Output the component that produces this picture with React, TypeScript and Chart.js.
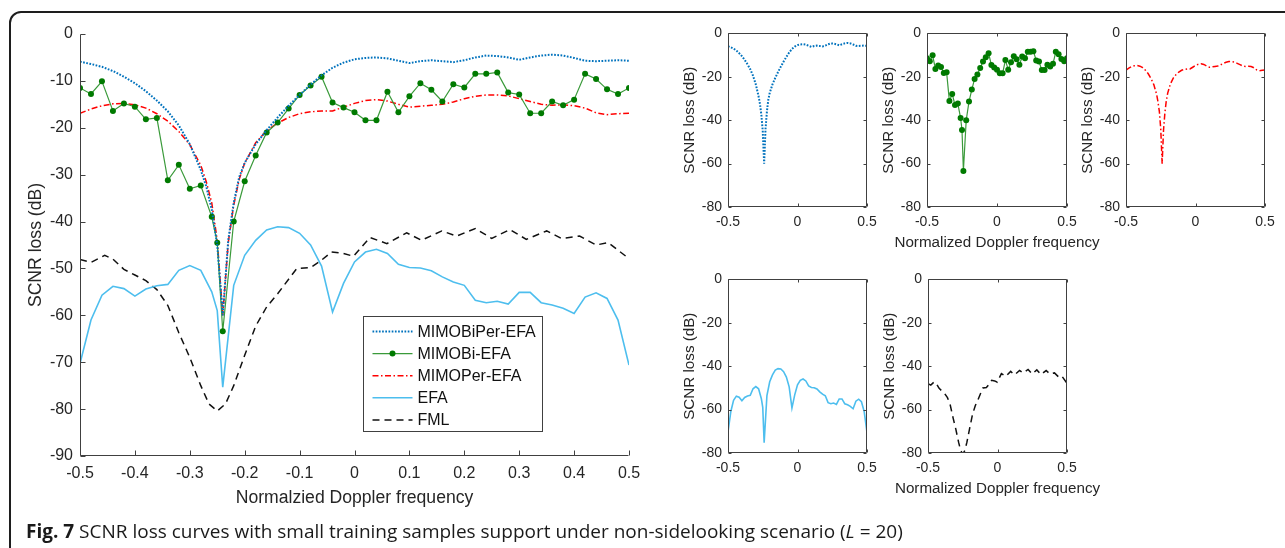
import React, { useEffect, useRef } from "react";
import { Chart, registerables } from "chart.js";

Chart.register(...registerables);

const FONT = "'Liberation Sans', Arial, Helvetica, sans-serif";
const AXIS_COLOR = "#404040";
const TEXT_COLOR = "#262626";

// ---------- tick labels ----------
const MAIN_X_TICKS = [-0.5, -0.4, -0.3, -0.2, -0.1, 0, 0.1, 0.2, 0.3, 0.4, 0.5];
const MAIN_Y_TICKS = [0, -10, -20, -30, -40, -50, -60, -70, -80, -90];
const SMALL_X_TICKS = [-0.5, 0, 0.5];
const SMALL_Y_TICKS = [0, -20, -40, -60, -80];

// ---------- data ----------
// Doppler grid used by the smooth curves (denser near the clutter notch)
const FINE_X = [
  -0.5, -0.48, -0.46, -0.44, -0.42, -0.4, -0.38, -0.36, -0.34, -0.32, -0.3, -0.28,
  -0.27, -0.26, -0.25, -0.24, -0.23, -0.22, -0.21,
  -0.2, -0.18, -0.16, -0.14, -0.12, -0.1, -0.08, -0.06, -0.04, -0.02,
  0, 0.02, 0.04, 0.06, 0.08, 0.1, 0.12, 0.14, 0.16, 0.18, 0.2, 0.22, 0.24, 0.26,
  0.28, 0.3, 0.32, 0.34, 0.36, 0.38, 0.4, 0.42, 0.44, 0.46, 0.48, 0.5,
];
const BIPER_Y = [
  -5.9, -6.4, -7.0, -7.9, -9.1, -10.5, -12.2, -14.2, -16.5, -19.5, -23.5, -29.0,
  -32.5, -37.5, -45, -60, -44, -36, -30.5,
  -27.5, -23.5, -20.5, -17.8, -15.3, -13.0, -10.8, -8.8, -7.2, -6.1,
  -5.4, -5.1, -5.0, -5.2, -5.7, -6.2, -5.8, -5.6, -5.8, -6.0, -5.6, -5.0, -4.6, -4.7,
  -5.0, -5.5, -5.0, -4.6, -4.4, -4.6, -5.1, -5.7, -5.8, -5.7, -5.6, -5.7,
];
const PER_Y = [
  -16.9, -16.0, -15.3, -14.9, -14.8, -15.1, -15.8, -17.0, -18.6, -20.8, -23.6, -28.0,
  -31.5, -36, -44, -60, -44.5, -36.5, -31,
  -27.5, -23.2, -20.6, -19.0, -17.8, -17.0, -16.6, -16.4, -16.4, -15.6,
  -14.8, -14.2, -14.0, -14.3, -15.0, -15.6, -15.4, -15.2, -15.0, -14.5, -13.8, -13.3, -13.0, -13.0,
  -13.2, -13.8, -14.4, -15.0, -15.2, -15.1, -15.3, -15.8, -16.8, -17.2, -17.0, -16.9,
];

// Doppler grid of the sample-based curves
const SAMPLE_X = [
  -0.5, -0.48, -0.46, -0.44, -0.42, -0.4, -0.38, -0.36, -0.34, -0.32, -0.3, -0.28, -0.26,
  -0.25, -0.24,
  -0.22, -0.2, -0.18, -0.16, -0.14, -0.12, -0.1, -0.08, -0.06, -0.04, -0.02,
  0, 0.02, 0.04, 0.06, 0.08, 0.1, 0.12, 0.14, 0.16, 0.18, 0.2, 0.22, 0.24, 0.26,
  0.28, 0.3, 0.32, 0.34, 0.36, 0.38, 0.4, 0.42, 0.44, 0.46, 0.48, 0.5,
];
const BI_Y = [
  -11.5, -12.8, -10.1, -16.4, -14.8, -15.5, -18.2, -17.9, -31.2, -27.9, -33.0, -32.3, -39.0,
  -44.5, -63.4,
  -40.0, -31.4, -25.9, -21.0, -18.9, -15.9, -13.0, -11.0, -9.1, -14.6, -15.7,
  -16.7, -18.4, -18.4, -12.3, -16.7, -13.3, -10.5, -11.9, -14.4, -10.7, -11.4, -8.5, -8.5, -8.2,
  -12.5, -12.9, -16.9, -16.9, -14.4, -15.2, -14.0, -8.5, -9.6, -11.8, -12.8, -11.5,
];
const EFA_Y = [
  -70.3, -61.0, -55.7, -53.8, -54.3, -55.9, -54.4, -53.7, -53.4, -50.4, -49.4, -50.4, -55.0,
  -59.0, -75.3,
  -53.6, -47.2, -44.0, -41.8, -41.1, -41.3, -42.5, -45.0, -49.5, -59.3, -53.2,
  -48.6, -46.5, -45.9, -46.8, -49.1, -49.8, -49.9, -50.5, -51.8, -52.9, -53.6, -56.8, -57.3, -57.0,
  -57.6, -55.1, -55.1, -57.3, -57.8, -58.5, -59.6, -56.1, -55.2, -56.4, -61.0, -70.6,
];

const FML_X = [
  -0.5, -0.48, -0.455, -0.44, -0.42, -0.4, -0.38, -0.36, -0.34, -0.32, -0.3, -0.28, -0.265,
  -0.25, -0.235, -0.22, -0.2, -0.18, -0.16, -0.14, -0.12, -0.105, -0.08, -0.063, -0.042,
  -0.02, -0.002, 0.028, 0.059, 0.095, 0.122, 0.159, 0.186, 0.22, 0.25, 0.283, 0.313, 0.35,
  0.377, 0.41, 0.44, 0.462, 0.5,
];
const FML_Y = [
  -48.1, -48.7, -47.2, -48.0, -50.2, -51.4, -52.6, -54.5, -57.9, -63.7, -69.0, -75.0, -78.9,
  -80.4, -78.9, -75.0, -68.5, -62.3, -58.2, -55.4, -52.3, -50.0, -49.8, -48.5, -46.5,
  -46.8, -47.4, -43.4, -44.7, -42.4, -44.0, -42.0, -43.1, -41.5, -43.6, -41.7, -43.8, -42.0,
  -43.6, -43.1, -45.0, -44.5, -47.9,
];

// ---------- series styles ----------
type Series = {
  label: string;
  xs: number[];
  ys: number[];
  color: string;
  width: number;
  dash: number[];
  point: number;
  pointColor?: string;
};

const S_BIPER: Series = { label: "MIMOBiPer-EFA", xs: FINE_X, ys: BIPER_Y, color: "#0072BD", width: 2, dash: [1.7, 1.5], point: 0 };
const S_BI: Series = { label: "MIMOBi-EFA", xs: SAMPLE_X, ys: BI_Y, color: "#3a9a3a", width: 1.2, dash: [], point: 3, pointColor: "#007a00" };
const S_PER: Series = { label: "MIMOPer-EFA", xs: FINE_X, ys: PER_Y, color: "#FF0000", width: 1.5, dash: [6, 2.5, 1.5, 2.5], point: 0 };
const S_EFA: Series = { label: "EFA", xs: SAMPLE_X, ys: EFA_Y, color: "#4DBEEE", width: 1.6, dash: [], point: 0 };
const S_FML: Series = { label: "FML", xs: FML_X, ys: FML_Y, color: "#111111", width: 1.5, dash: [7, 5], point: 0 };

function toDataset(s: Series) {
  return {
    label: s.label,
    data: s.xs.map((x, i) => ({ x, y: s.ys[i] })),
    borderColor: s.color,
    backgroundColor: s.pointColor || s.color,
    borderWidth: s.width,
    borderDash: s.dash,
    borderCapStyle: "butt",
    pointRadius: s.point,
    pointHoverRadius: s.point,
    pointBackgroundColor: s.pointColor || s.color,
    pointBorderColor: s.pointColor || s.color,
    pointBorderWidth: 0,
    tension: 0,
    fill: false,
  };
}

// ---------- plugin: MATLAB-like axes, titles and legend ----------
const matlabPlugin = {
  id: "matlab",
  afterDatasetsDraw(chart: any, _args: any, o: any) {
    const { ctx, chartArea: a } = chart;
    const xs = chart.scales.x;
    const ys = chart.scales.y;
    const L = Math.round(a.left) + 0.5;
    const R = Math.round(a.right) - 0.5;
    const T = Math.round(a.top) + 0.5;
    const B = Math.round(a.bottom) - 0.5;
    ctx.save();
    ctx.strokeStyle = AXIS_COLOR;
    ctx.lineWidth = 1;
    ctx.setLineDash([]);
    ctx.beginPath();
    if (o.box) {
      ctx.rect(L, T, R - L, B - T);
    } else {
      ctx.moveTo(L, T);
      ctx.lineTo(L, B);
      ctx.lineTo(R, B);
    }
    const len = o.tickLen;
    ys.ticks.forEach((t: any) => {
      const y = Math.round(ys.getPixelForValue(t.value)) + 0.5;
      ctx.moveTo(L, y);
      ctx.lineTo(L + len, y);
      if (o.box) {
        ctx.moveTo(R, y);
        ctx.lineTo(R - len, y);
      }
    });
    xs.ticks.forEach((t: any) => {
      const x = Math.round(xs.getPixelForValue(t.value)) + 0.5;
      ctx.moveTo(x, B);
      ctx.lineTo(x, B - len);
      if (o.box) {
        ctx.moveTo(x, T);
        ctx.lineTo(x, T + len);
      }
    });
    ctx.stroke();

    // axis titles
    ctx.fillStyle = TEXT_COLOR;
    ctx.font = `${o.titleSize}px ${FONT}`;
    ctx.textAlign = "center";
    ctx.textBaseline = "middle";
    if (o.xTitle) {
      ctx.fillText(o.xTitle, (a.left + a.right) / 2, a.bottom + o.xTitleDy);
    }
    if (o.yTitle) {
      ctx.save();
      ctx.translate(a.left + o.yTitleDx, (a.top + a.bottom) / 2);
      ctx.rotate(-Math.PI / 2);
      ctx.fillText(o.yTitle, 0, 0);
      ctx.restore();
    }

    // legend
    if (o.legend) {
      const lg = o.legend;
      const bx = Math.round(a.left + lg.dx) + 0.5;
      const by = Math.round(a.top + lg.dy) + 0.5;
      ctx.fillStyle = "#ffffff";
      ctx.fillRect(bx, by, lg.w, lg.h);
      ctx.strokeStyle = AXIS_COLOR;
      ctx.lineWidth = 1;
      ctx.strokeRect(bx, by, lg.w, lg.h);
      chart.data.datasets.forEach((ds: any, i: number) => {
        const y = by + lg.firstRow + i * lg.rowStep;
        const x0 = bx + lg.sampleX;
        const x1 = x0 + lg.sampleW;
        ctx.save();
        ctx.strokeStyle = ds.borderColor;
        ctx.lineWidth = ds.borderWidth;
        ctx.setLineDash(ds.borderDash || []);
        ctx.lineCap = "butt";
        ctx.beginPath();
        ctx.moveTo(x0, y);
        ctx.lineTo(x1, y);
        ctx.stroke();
        if (ds.pointRadius > 0) {
          ctx.fillStyle = ds.pointBackgroundColor;
          ctx.beginPath();
          ctx.arc((x0 + x1) / 2, y, ds.pointRadius, 0, Math.PI * 2);
          ctx.fill();
        }
        ctx.restore();
        ctx.fillStyle = "#111111";
        ctx.font = `${lg.fontSize}px ${FONT}`;
        ctx.textAlign = "left";
        ctx.textBaseline = "middle";
        ctx.fillText(ds.label, bx + lg.textX, y + 1);
      });
    }
    ctx.restore();
  },
};

// ---------- panel ----------
type Area = { L: number; T: number; R: number; B: number };
type Pad = { left: number; top: number; right: number; bottom: number };

type PanelSpec = {
  area: Area;
  pad: Pad;
  series: Series[];
  xTicks: number[];
  yTicks: number[];
  yMin: number;
  yMax: number;
  tickSize: number;
  titleSize: number;
  xTickPad: number;
  yTickPad: number;
  box: boolean;
  tickLen: number;
  xTitle?: string;
  xTitleDy: number;
  yTitle: string;
  yTitleDx: number;
  legend?: any;
};

const fmtX = (v: number) => {
  const r = Math.round(v * 10) / 10;
  return r === 0 ? "0" : String(r);
};
const fmtY = (v: number) => {
  const r = Math.round(v);
  return r === 0 ? "0" : String(r);
};

function Panel({ spec }: { spec: PanelSpec }) {
  const ref = useRef<HTMLCanvasElement>(null);
  const { area, pad } = spec;
  const cx = area.L - pad.left;
  const cy = area.T - pad.top;
  const cw = area.R - area.L + pad.left + pad.right;
  const ch = area.B - area.T + pad.top + pad.bottom;

  useEffect(() => {
    const chart = new Chart(ref.current as HTMLCanvasElement, {
      type: "line",
      data: { datasets: spec.series.map(toDataset) as any },
      plugins: [matlabPlugin as any],
      options: {
        animation: false,
        responsive: false,
        maintainAspectRatio: false,
        events: [],
        layout: { padding: { left: 0, top: pad.top, right: pad.right, bottom: 0 } },
        scales: {
          x: {
            type: "linear",
            min: spec.xTicks[0],
            max: spec.xTicks[spec.xTicks.length - 1],
            afterBuildTicks: (ax: any) => {
              ax.ticks = spec.xTicks.map((v) => ({ value: v }));
            },
            afterFit: (ax: any) => {
              ax.height = pad.bottom;
            },
            ticks: {
              callback: (v: any) => fmtX(Number(v)),
              font: { family: FONT, size: spec.tickSize },
              color: TEXT_COLOR,
              padding: spec.xTickPad,
              maxRotation: 0,
              minRotation: 0,
              autoSkip: false,
            },
            grid: { display: false, drawTicks: false },
            border: { display: false },
          },
          y: {
            type: "linear",
            min: spec.yMin,
            max: spec.yMax,
            afterBuildTicks: (ax: any) => {
              ax.ticks = spec.yTicks.map((v) => ({ value: v }));
            },
            afterFit: (ax: any) => {
              ax.width = pad.left;
            },
            ticks: {
              callback: (v: any) => fmtY(Number(v)),
              font: { family: FONT, size: spec.tickSize },
              color: TEXT_COLOR,
              padding: spec.yTickPad,
              autoSkip: false,
            },
            grid: { display: false, drawTicks: false },
            border: { display: false },
          },
        },
        plugins: {
          legend: { display: false },
          tooltip: { enabled: false },
          matlab: {
            box: spec.box,
            tickLen: spec.tickLen,
            titleSize: spec.titleSize,
            xTitle: spec.xTitle,
            xTitleDy: spec.xTitleDy,
            yTitle: spec.yTitle,
            yTitleDx: spec.yTitleDx,
            legend: spec.legend,
          },
        } as any,
      },
    });
    return () => chart.destroy();
  }, []);

  return (
    <canvas
      ref={ref}
      width={cw}
      height={ch}
      style={{ position: "absolute", left: cx, top: cy, width: cw, height: ch }}
    />
  );
}

const MAIN: PanelSpec = {
  area: { L: 80, T: 34, R: 629, B: 456 },
  pad: { left: 80, top: 34, right: 31, bottom: 70 },
  series: [S_BIPER, S_BI, S_PER, S_EFA, S_FML],
  xTicks: MAIN_X_TICKS,
  yTicks: MAIN_Y_TICKS,
  yMin: -90,
  yMax: 0,
  tickSize: 16,
  titleSize: 17.6,
  xTickPad: 8,
  yTickPad: 7,
  box: false,
  tickLen: 5,
  xTitle: "Normalzied Doppler frequency",
  xTitleDy: 42,
  yTitle: "SCNR loss (dB)",
  yTitleDx: -44,
  legend: { dx: 283, dy: 282, w: 179, h: 115, firstRow: 15, rowStep: 22.1, sampleX: 9, sampleW: 40, textX: 54, fontSize: 16 },
};

function small(area: Area, s: Series, withXTitle: boolean): PanelSpec {
  return {
    area,
    pad: { left: 62, top: 14, right: 50, bottom: 48 },
    series: [s],
    xTicks: SMALL_X_TICKS,
    yTicks: SMALL_Y_TICKS,
    yMin: -80,
    yMax: 0,
    tickSize: 14,
    titleSize: 15.2,
    xTickPad: 7,
    yTickPad: 6,
    box: true,
    tickLen: 3,
    xTitle: withXTitle ? "Normalized Doppler frequency" : undefined,
    xTitleDy: 36,
    yTitle: "SCNR loss (dB)",
    yTitleDx: -38,
  };
}

const PANELS: PanelSpec[] = [
  MAIN,
  small({ L: 728, T: 33, R: 867, B: 207 }, S_BIPER, false),
  small({ L: 927, T: 33, R: 1067, B: 207 }, S_BI, true),
  small({ L: 1126, T: 33, R: 1265, B: 207 }, S_PER, false),
  small({ L: 728, T: 279, R: 867, B: 453 }, S_EFA, false),
  small({ L: 928, T: 279, R: 1067, B: 453 }, S_FML, true),
];

export default function App() {
  return (
    <div
      style={{
        position: "absolute",
        left: 0,
        top: 0,
        width: 1285,
        height: 548,
        overflow: "hidden",
        background: "#ffffff",
      }}
    >
      <div
        style={{
          position: "absolute",
          left: 9,
          top: 11,
          width: 1320,
          height: 620,
          border: "2px solid #1e1e1e",
          borderRadius: 12,
          boxSizing: "border-box",
        }}
      />
      {PANELS.map((p, i) => (
        <Panel key={i} spec={p} />
      ))}
      <div
        style={{
          position: "absolute",
          left: 26,
          top: 519,
          whiteSpace: "nowrap",
          fontFamily: "'Open Sans', 'Noto Sans', sans-serif",
          fontSize: 19,
          lineHeight: "24px",
          color: "#1a1a1a",
        }}
      >
        <b>Fig. 7</b> SCNR loss curves with small training samples support under non-sidelooking scenario (<i>L</i> = 20)
      </div>
    </div>
  );
}
